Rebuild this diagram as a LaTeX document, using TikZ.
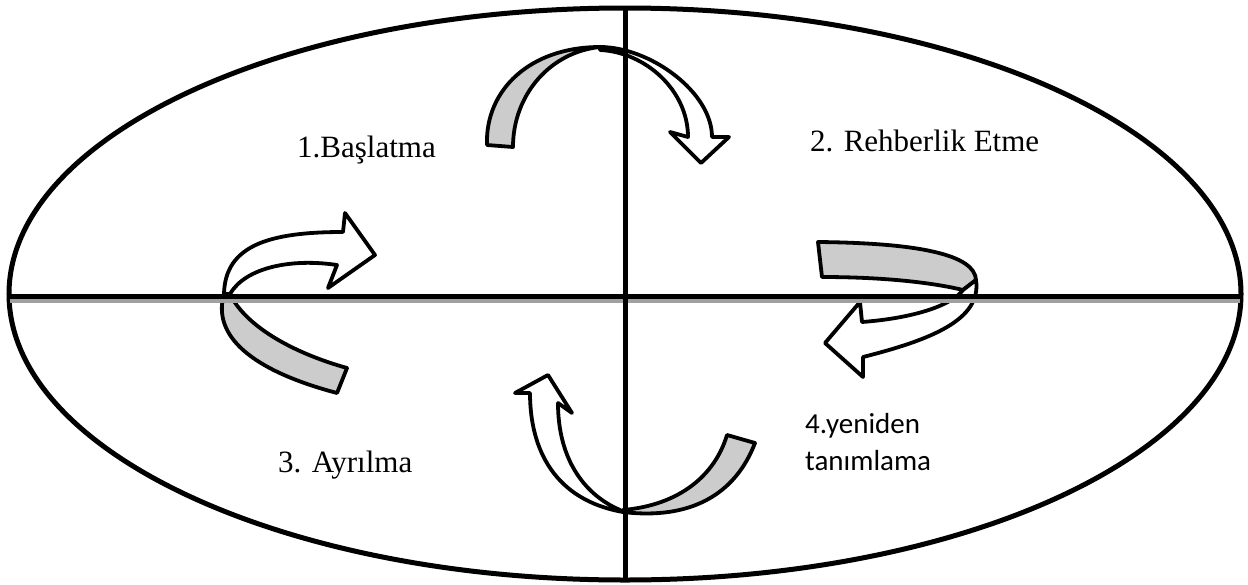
\documentclass[tikz,border=0pt]{standalone}
\usetikzlibrary{shapes.geometric}
\usepackage{fontspec}
\setmainfont{Liberation Serif}
\newfontfamily\calfont{Carlito}
\definecolor{bandgray}{HTML}{CCCCCC}
\definecolor{shadowgray}{HTML}{A0A0A0}
\begin{document}
\begin{tikzpicture}[x=1pt,y=-1pt,
  frame/.style={line width=5pt},
  ribbon/.style={line width=3.8pt,line join=round,fill=bandgray},
  shaft/.style={line width=3.8pt,line join=round,fill=white},
  lbl/.style={anchor=base west,inner sep=0pt,font=\fontsize{31}{37}\selectfont}]
\useasboundingbox (0,0) rectangle (1248,584);
\fill[white] (0,0) rectangle (1248,584);
\node[draw,frame,ellipse,minimum width=1232pt,minimum height=572pt,inner sep=0pt] (ell) at (625,294) {};
% arrow 1 (top)
\draw[ribbon] (487,145) .. controls (485,90) and (530,47) .. (600,47)
   .. controls (550,52) and (513,95) .. (513,147) -- cycle;
\draw[shaft] (600,47) .. controls (650,47) and (712,92) .. (712,137)
   -- (729,137) -- (701,163) -- (670,132) -- (688,137)
   .. controls (688,90) and (645,52) .. (600,50) -- cycle;
% arrow 2 (left)
\draw[ribbon] (224,294) .. controls (212,335) and (250,370) .. (337,393)
   -- (347,368) .. controls (290,352) and (245,325) .. (230,294) -- cycle;
\draw[shaft] (224,294) .. controls (225,245) and (270,232) .. (343,232)
   -- (345,213) -- (375,255) -- (328,288) -- (337,265)
   .. controls (290,258) and (245,268) .. (230,294) -- cycle;
% arrow 3 (right)
\draw[ribbon] (818,242) .. controls (920,243) and (975,255) .. (976,280)
   -- (963,290) .. controls (930,282) and (880,277) .. (822,277) -- cycle;
\draw[shaft] (976,280) .. controls (982,320) and (930,340) .. (863,357)
   -- (863,377) -- (825,343) -- (860,302) -- (862,322)
   .. controls (915,318) and (952,305) .. (963,290) -- cycle;
% arrow 4 (bottom)
\draw[ribbon] (727,435) -- (755,443) .. controls (735,495) and (690,520) .. (623,512)
   -- (623,510) .. controls (680,505) and (715,475) .. (727,435) -- cycle;
\draw[shaft] (623,512) .. controls (555,500) and (530,450) .. (530,393)
   -- (515,393) -- (548,375) -- (572,413) -- (558,403)
   .. controls (558,460) and (585,495) .. (620,510) -- cycle;
% axes
\coordinate (hl) at (10,296);
\coordinate (hr) at (1240,296);
\coordinate (vt) at (625,8);
\coordinate (vb) at (625,580);
\draw[shadowgray,line width=4pt] ([yshift=-4.5pt]hl) -- ([yshift=-4.5pt]hr);
\draw[frame] (hl) -- (hr);
\draw[frame] (vt) -- (vb);
% labels
\node[lbl] (t1) at (297,157) {1.Başlatma};
\node[lbl] (t2) at (810,151) {2. Rehberlik Etme};
\node[lbl] (t3) at (278,472) {3. Ayrılma};
\node[lbl,font=\calfont\fontsize{29}{37}\selectfont] (t4a) at (805,433) {4.yeniden};
\node[lbl,font=\calfont\fontsize{29}{37}\selectfont] (t4b) at (805,470) {tanımlama};
\end{tikzpicture}
\end{document}
